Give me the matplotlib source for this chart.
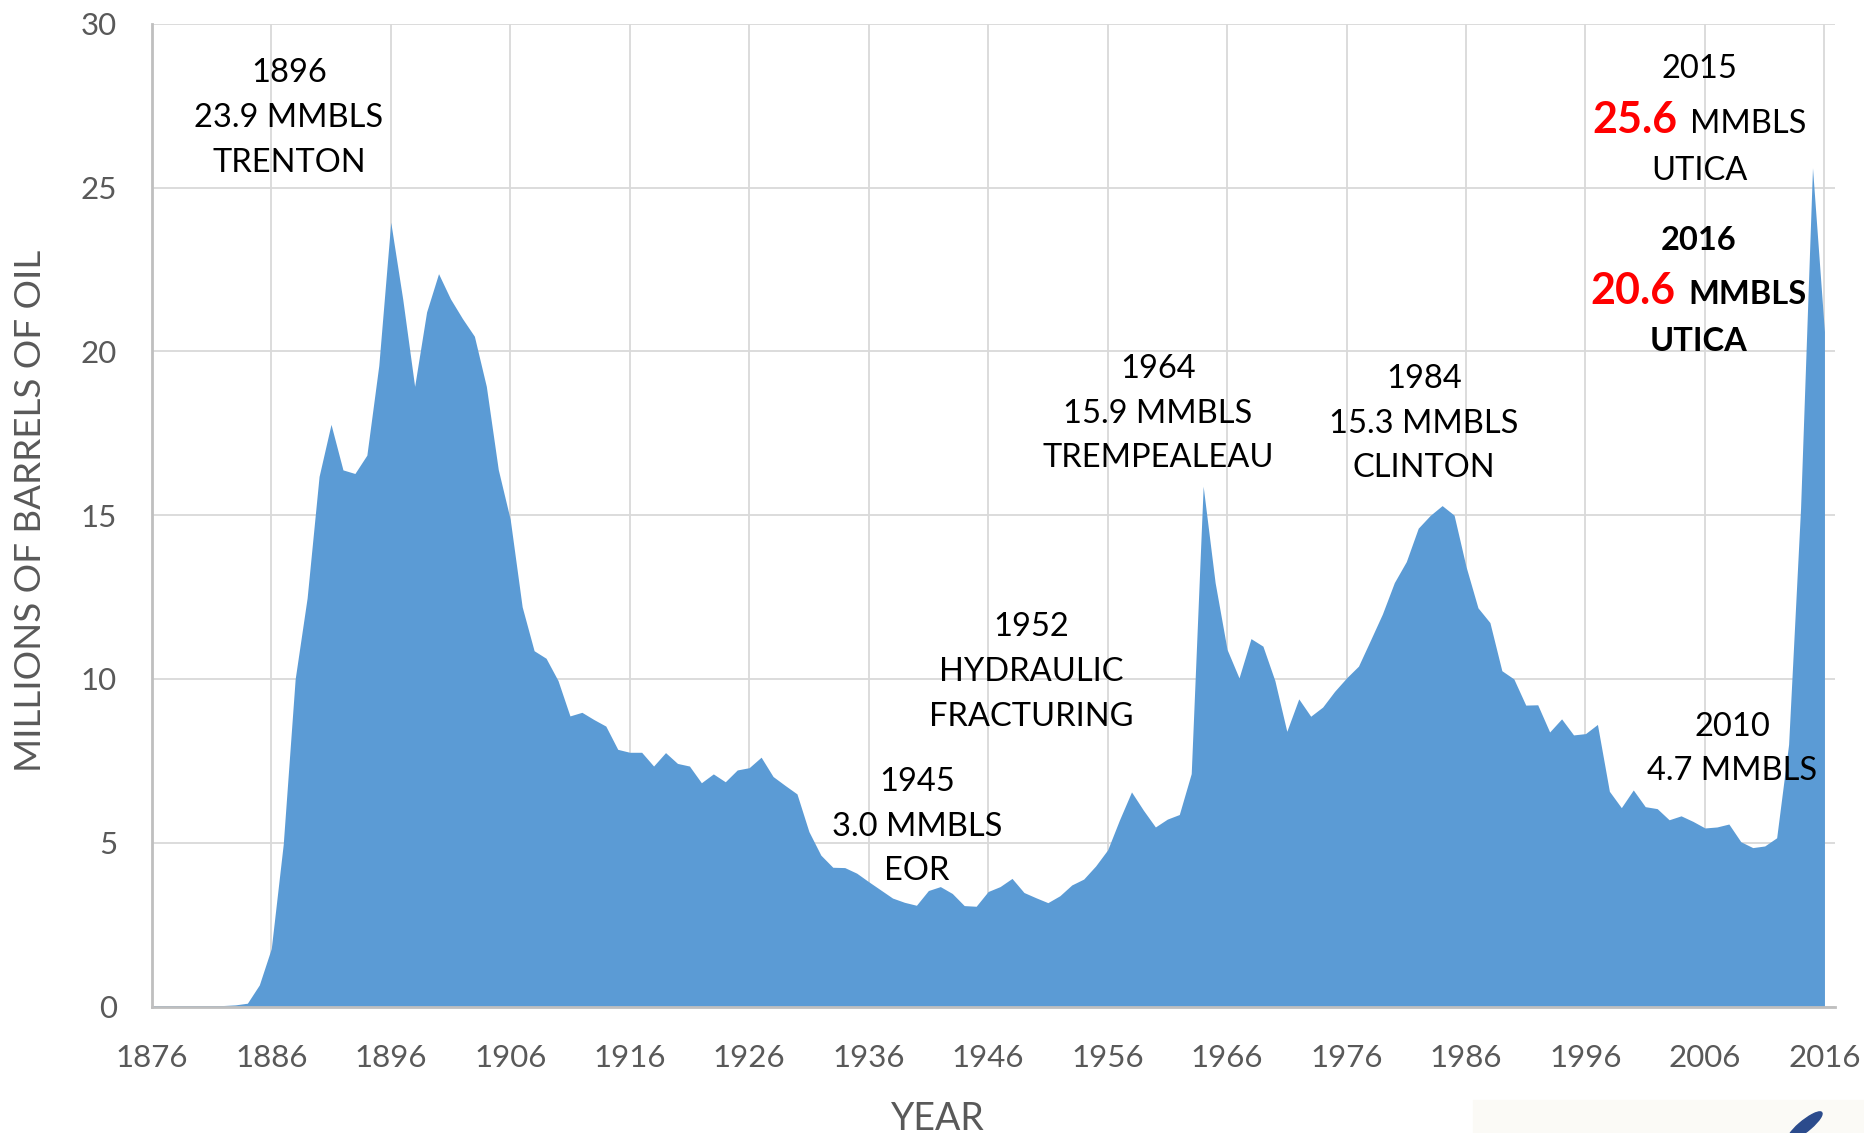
import matplotlib
matplotlib.use("Agg")
import matplotlib.pyplot as plt
from matplotlib.patches import Rectangle, Ellipse

plt.rcParams['font.family'] = ['Lato', 'DejaVu Sans']

# Ohio oil production, millions of barrels per year
years = list(range(1876, 2017))
production = [
    # 1876-1885
    0.03, 0.03, 0.03, 0.03, 0.03, 0.03, 0.03, 0.05, 0.10, 0.66,
    # 1886-1895
    1.77, 4.95, 10.0, 12.47, 16.18, 17.77, 16.38, 16.27, 16.83, 19.57,
    # 1896-1905
    23.94, 21.6, 18.93, 21.2, 22.37, 21.6, 21.0, 20.46, 18.93, 16.39,
    # 1906-1915
    14.87, 12.2, 10.86, 10.63, 9.95, 8.87, 8.98, 8.76, 8.56, 7.85,
    # 1916-1925
    7.76, 7.76, 7.34, 7.75, 7.42, 7.34, 6.83, 7.10, 6.86, 7.22,
    # 1926-1935
    7.29, 7.61, 7.02, 6.75, 6.49, 5.34, 4.62, 4.25, 4.24, 4.07,
    # 1936-1945
    3.81, 3.56, 3.31, 3.18, 3.09, 3.54, 3.66, 3.45, 3.08, 3.06,
    # 1946-1955
    3.51, 3.66, 3.91, 3.48, 3.32, 3.17, 3.38, 3.71, 3.89, 4.29,
    # 1956-1965
    4.78, 5.70, 6.55, 5.99, 5.48, 5.72, 5.86, 7.11, 15.88, 12.94,
    # 1966-1975
    10.9, 10.03, 11.23, 11.0, 9.95, 8.4, 9.39, 8.86, 9.14, 9.62,
    # 1976-1985
    10.03, 10.39, 11.18, 11.98, 12.94, 13.58, 14.6, 14.99, 15.29, 15.0,
    # 1986-1995
    13.43, 12.17, 11.72, 10.25, 10.0, 9.2, 9.21, 8.38, 8.78, 8.29,
    # 1996-2005
    8.33, 8.61, 6.57, 6.07, 6.61, 6.1, 6.04, 5.7, 5.82, 5.65,
    # 2006-2016
    5.45, 5.48, 5.57, 5.03, 4.85, 4.9, 5.15, 8.0, 15.2, 25.6, 20.6,
]

x_ticks = list(range(1876, 2017, 10))
y_ticks = [0, 5, 10, 15, 20, 25, 30]

# (lines, centre x px, baselines px) for the plain annotations
notes = [
    (["1896", "23.9 MMBLS", "TRENTON"], 289, [82.5, 127, 172.5]),
    (["1945", "3.0 MMBLS", "EOR"], 917, [791, 836, 880.5]),
    (["1952", "HYDRAULIC", "FRACTURING"], 1031, [636, 681, 726.5]),
    (["1964", "15.9 MMBLS", "TREMPEALEAU"], 1158, [378, 423, 467]),
    (["1984", "15.3 MMBLS", "CLINTON"], 1424, [388, 432.5, 477]),
    (["2010", "4.7 MMBLS"], 1732, [736, 780.5]),
]

W, H = 1864, 1133
fig = plt.figure(figsize=(W / 100, H / 100), dpi=100)
ax = fig.add_axes([151.8 / W, 1 - 1006.5 / H, (1834.6 - 151.8) / W, (1006.5 - 23.7) / H])

ax.fill_between(years, production, 0, color='#5b9bd5', lw=0, zorder=2)

ax.set_xlim(1876, 2016.85)
ax.set_ylim(0, 30)
ax.set_xticks(x_ticks)
ax.set_yticks(y_ticks)
ax.grid(True, color='#d9d9d9', lw=1.3, zorder=0)
ax.set_axisbelow(True)
ax.tick_params(length=0, labelsize=22.5, labelcolor='#595959')
ax.tick_params(axis='x', pad=27)
ax.tick_params(axis='y', pad=25)
for s in ['top', 'right']:
    ax.spines[s].set_visible(False)
for s in ['left', 'bottom']:
    ax.spines[s].set_color('#bfbfbf')
    ax.spines[s].set_linewidth(2)
    ax.spines[s].set_zorder(3)


def put(x, y, s, **kw):
    kw.setdefault('ha', 'center')
    kw.setdefault('va', 'baseline')
    kw.setdefault('color', 'black')
    kw.setdefault('fontsize', 23.5)
    return fig.text(x / W, 1 - y / H, s, **kw)


for lines, cx, bases in notes:
    for s, b in zip(lines, bases):
        put(cx, b, s)

# 2015 block
put(1699, 78.5, "2015")
put(1677, 133, "25.6", ha='right', color='#ff0000', fontsize=31, fontweight='bold')
put(1690, 133, "MMBLS", ha='left')
put(1699, 180, "UTICA")
# 2016 block (bold)
put(1699, 249.5, "2016", fontweight='bold')
put(1675, 304, "20.6", ha='right', color='#ff0000', fontsize=31, fontweight='bold')
put(1688, 304, "MMBLS", ha='left', fontweight='bold')
put(1699, 351, "UTICA", fontweight='bold')

# axis titles
fig.text(31 / W, 1 - 511 / H, "MILLIONS OF BARRELS OF OIL", rotation=90,
         ha='center', va='center', fontsize=26.5, color='#595959')
put(938, 1130, "YEAR", fontsize=27, color='#595959')

# corner of a logo peeking in at the bottom right
fig.patches.append(Rectangle((1473 / W, 0), (W - 1473) / W, 33 / H,
                             transform=fig.transFigure, color='#fbfaf6', zorder=0))
fig.patches.append(Ellipse((1805 / W, 1 - 1126 / H), 14 / W, 34 / H, angle=-35,
                           transform=fig.transFigure, color='#2b4b8c', zorder=1))

fig.savefig("out.png", dpi=100)
